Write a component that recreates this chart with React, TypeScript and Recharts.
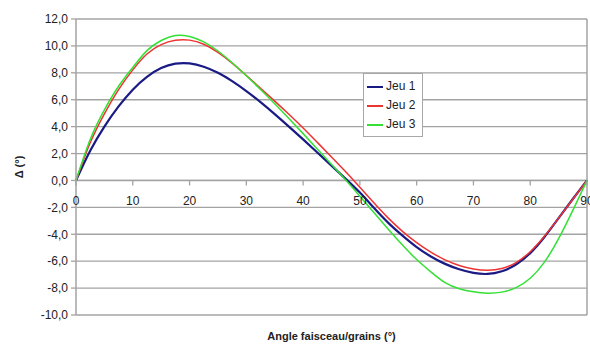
import React from 'react';
import { LineChart, Line, XAxis, YAxis, CartesianGrid, Legend, ReferenceLine } from 'recharts';

const ANGLES = [0, 2.5, 5, 7.5, 10, 12.5, 15, 17.5, 20, 22.5, 25, 27.5, 30, 32.5, 35, 37.5, 40, 42.5, 45, 47.5, 50, 52.5, 55, 57.5, 60, 62.5, 65, 67.5, 70, 72.5, 75, 77.5, 80, 82.5, 85, 87.5, 90];
const JEU1 = [0, 2.2, 4.0, 5.5, 6.75, 7.7, 8.35, 8.68, 8.7, 8.45, 8.0, 7.38, 6.64, 5.82, 4.93, 4.0, 3.05, 2.08, 1.1, 0.12, -0.9, -2.05, -3.15, -4.1, -4.95, -5.65, -6.2, -6.6, -6.87, -6.95, -6.75, -6.25, -5.4, -4.2, -2.8, -1.38, 0];
const JEU2 = [0, 2.8, 4.95, 6.75, 8.22, 9.4, 10.1, 10.42, 10.43, 10.12, 9.52, 8.72, 7.8, 6.85, 5.9, 4.92, 3.9, 2.83, 1.75, 0.65, -0.5, -1.68, -2.8, -3.78, -4.62, -5.33, -5.9, -6.32, -6.58, -6.68, -6.55, -6.1, -5.3, -4.15, -2.8, -1.4, 0];
const JEU3 = [0, 3.05, 5.25, 7.0, 8.4, 9.65, 10.4, 10.78, 10.7, 10.3, 9.62, 8.75, 7.78, 6.76, 5.7, 4.6, 3.48, 2.34, 1.19, 0.03, -1.17, -2.4, -3.62, -4.8, -5.88, -6.8, -7.6, -8.05, -8.28, -8.38, -8.3, -7.97, -7.27, -6.07, -4.32, -2.22, 0];
const SERIES_NAMES = ['Jeu 1', 'Jeu 2', 'Jeu 3'];
const SERIES_COLORS = ['#1a1a85', '#ee3333', '#33e033'];
const X_TICKS = [0, 10, 20, 30, 40, 50, 60, 70, 80, 90];
const Y_TICKS = [-10, -8, -6, -4, -2, 0, 2, 4, 6, 8, 10, 12];
const X_TITLE = 'Angle faisceau/grains (°)';
const Y_TITLE = 'Δ (°)';

const data = ANGLES.map((a, i) => ({ angle: a, j1: JEU1[i], j2: JEU2[i], j3: JEU3[i] }));

const W = 590;
const H = 345;
const M_TOP = 19;
const M_RIGHT = 3;
const Y_AXIS_W = 76;
const X_AXIS_H = 30;
const PLOT_H = H - M_TOP - X_AXIS_H;
const Y_MIN = -10;
const Y_MAX = 12;
const FONT = '"Liberation Sans", Arial, sans-serif';
const GRID = '#a3a3a3';
const TEXT = '#222';

const zeroY = M_TOP + (PLOT_H * (Y_MAX - 0)) / (Y_MAX - Y_MIN);

const XTick = (props: any) => {
  const { x, payload } = props;
  return (
    <g>
      <line x1={x} x2={x} y1={zeroY} y2={zeroY + 5} stroke={GRID} strokeWidth={1.3} />
      <text x={x} y={zeroY + 25} textAnchor="middle" fontSize={12} fontFamily={FONT} fill={TEXT}>
        {payload.value}
      </text>
    </g>
  );
};

const YLabel = (props: any) => {
  const vb = props.viewBox || { x: 0, y: M_TOP, width: Y_AXIS_W, height: PLOT_H };
  const cx = vb.x + 23;
  const cy = vb.y + vb.height / 2;
  return (
    <text x={cx} y={cy} transform={`rotate(-90, ${cx}, ${cy})`} textAnchor="middle" fontSize={11} fontWeight="bold" fontFamily={FONT} fill={TEXT}>
      {Y_TITLE}
    </text>
  );
};

const XLabel = (props: any) => {
  const vb = props.viewBox || { x: Y_AXIS_W, y: H - X_AXIS_H, width: W - Y_AXIS_W - M_RIGHT, height: X_AXIS_H };
  const cx = vb.x + vb.width / 2;
  const cy = vb.y + vb.height - 5;
  return (
    <text x={cx} y={cy} textAnchor="middle" fontSize={11} fontWeight="bold" fontFamily={FONT} fill={TEXT}>
      {X_TITLE}
    </text>
  );
};

const LegendBox = () => (
  <div style={{ border: '1px solid #a8a8a8', background: '#fff', padding: '3px 4px 2px 3px', fontFamily: FONT, fontSize: 12, color: TEXT, lineHeight: '19px' }}>
    {SERIES_NAMES.map((n, i) => (
      <div key={n} style={{ display: 'flex', alignItems: 'center', whiteSpace: 'nowrap' }}>
        <span style={{ display: 'inline-block', width: 16, height: 2, background: SERIES_COLORS[i], marginRight: 3 }} />
        <span>{n}</span>
      </div>
    ))}
  </div>
);

const yFmt = (v: number) => v.toFixed(1).replace('.', ',');

export default function App() {
  return (
    <div style={{ position: 'absolute', left: 0, top: 0, width: W, height: H, background: '#fff' }}>
      <LineChart width={W} height={H} data={data} margin={{ top: M_TOP, right: M_RIGHT, bottom: 0, left: 0 }}>
        <CartesianGrid horizontal={true} vertical={false} stroke={GRID} strokeWidth={1.3} />
        <XAxis
          dataKey="angle"
          type="number"
          domain={[0, 90]}
          ticks={X_TICKS}
          height={X_AXIS_H}
          axisLine={false}
          tickLine={false}
          tick={XTick}
          interval={0}
          label={XLabel}
        />
        <YAxis
          type="number"
          domain={[Y_MIN, Y_MAX]}
          ticks={Y_TICKS}
          width={Y_AXIS_W}
          interval={0}
          tickFormatter={yFmt}
          axisLine={{ stroke: GRID, strokeWidth: 1.5 }}
          tickLine={{ stroke: GRID, strokeWidth: 1.3 }}
          tickSize={5}
          tickMargin={3}
          tick={{ fontSize: 12, fontFamily: FONT, fill: TEXT }}
          label={YLabel}
        />
        <ReferenceLine x={90} stroke={GRID} strokeWidth={1.5} />
        <ReferenceLine y={0} stroke={GRID} strokeWidth={1.5} />
        <Legend
          layout="vertical"
          verticalAlign="middle"
          align="center"
          content={LegendBox}
          wrapperStyle={{ left: 363, top: 73, width: 60 }}
        />
        <Line type="natural" dataKey="j1" name={SERIES_NAMES[0]} stroke={SERIES_COLORS[0]} strokeWidth={2.2} dot={false} isAnimationActive={false} />
        <Line type="natural" dataKey="j2" name={SERIES_NAMES[1]} stroke={SERIES_COLORS[1]} strokeWidth={1.5} dot={false} isAnimationActive={false} />
        <Line type="natural" dataKey="j3" name={SERIES_NAMES[2]} stroke={SERIES_COLORS[2]} strokeWidth={1.5} dot={false} isAnimationActive={false} />
      </LineChart>
    </div>
  );
}
